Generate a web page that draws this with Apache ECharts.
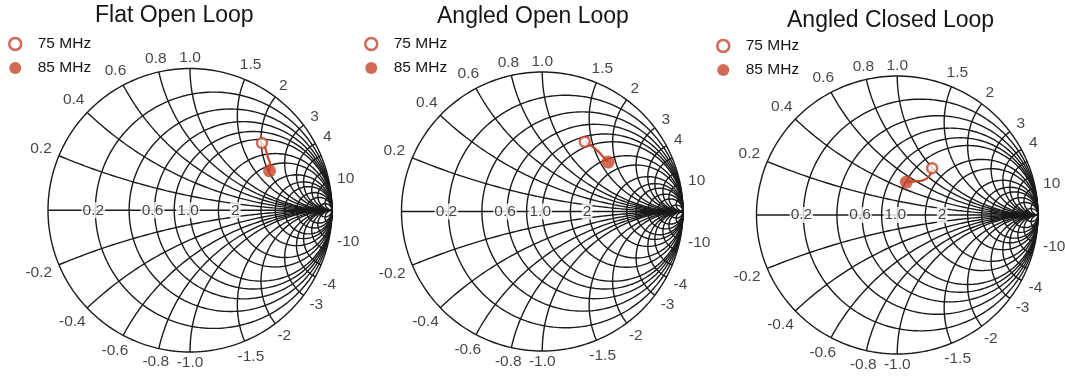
<!DOCTYPE html>
<html><head><meta charset="utf-8">
<script src="https://cdn.jsdelivr.net/npm/echarts@6/dist/echarts.min.js"></script>
<style>html,body{margin:0;padding:0;background:#fff}#c{width:1065px;height:381px}</style>
</head><body><div id="c"></div>
<script>
// ---- chart content ----
const chartTitles = ['Flat Open Loop', 'Angled Open Loop', 'Angled Closed Loop'];
const seriesNames = ['75 MHz', '85 MHz'];
// Smith chart grid: constant-resistance circles and constant-reactance arcs (normalised)
const resistanceCircles = [0.2, 0.4, 0.6, 0.8, 1, 1.5, 2, 3, 4, 5, 7, 10, 20];
const reactanceArcs = [0.2, 0.4, 0.6, 0.8, 1, 1.5, 2, 3, 4, 5, 7, 10, 20];
// tick labels
const resistanceLabels = ['0.2', '0.6', '1.0', '2'];
const reactanceLabels = ['0.2', '0.4', '0.6', '0.8', '1.0', '1.5', '2', '3', '4', '10',
  '-0.2', '-0.4', '-0.6', '-0.8', '-1.0', '-1.5', '-2', '-3', '-4', '-10'];
// measured sweeps 75 MHz -> 85 MHz, reflection coefficient (real, imaginary)
const flatOpenRe = [0.507, 0.528, 0.549, 0.563, 0.560];
const flatOpenIm = [0.474, 0.444, 0.373, 0.331, 0.278];
const angledOpenRe = [0.302, 0.374, 0.431, 0.468];
const angledOpenIm = [0.500, 0.453, 0.394, 0.354];
const angledClosedRe = [0.248, 0.231, 0.184, 0.125, 0.065];
const angledClosedIm = [0.337, 0.285, 0.249, 0.242, 0.237];

// ---- layout / style ----
const sweeps = [[flatOpenRe, flatOpenIm], [angledOpenRe, angledOpenIm], [angledClosedRe, angledClosedIm]];
const boxes = [
  {left: 48, top: 68.5, width: 284, height: 283.5},
  {left: 401.5, top: 72, width: 281.5, height: 279},
  {left: 756.5, top: 76, width: 281.5, height: 278}
];
const titlePos = [{left: 95, top: 4}, {left: 437, top: 5}, {left: 787, top: 9}];
const legendPos = [{left: 8, top: 36}, {left: 364, top: 36}, {left: 716, top: 38}];
const RED = '#c8452b';
const INK = '#1a1a1a';
const FONT = 'Liberation Sans, Arial, Helvetica, sans-serif';

function gamma(r, x) {
  const den = (r + 1) * (r + 1) + x * x;
  return [(r * r + x * x - 1) / den, 2 * x / den];
}
function rCircle(r) {
  const pts = [[1, 0]];
  const N = 240;
  for (let i = 1; i < N; i++) {
    const t = -Math.PI / 2 + Math.PI * i / N;
    pts.push(gamma(r, Math.tan(t)));
  }
  pts.push([1, 0]);
  return pts;
}
function xArc(x) {
  const pts = [];
  const N = 160;
  for (let i = 0; i < N; i++) {
    const t = (Math.PI / 2) * i / N;
    pts.push(gamma(Math.tan(t), x));
  }
  pts.push([1, 0]);
  return pts;
}
function textWidth(s) {
  let w = 0;
  for (const ch of s) w += ch === '.' ? 4.4 : ch === '-' ? 5.2 : 8.8;
  return w;
}

const option = {
  animation: false,
  backgroundColor: '#fff',
  title: [], legend: [], grid: [], xAxis: [], yAxis: [], series: []
};

chartTitles.forEach((name, k) => {
  option.title.push({
    text: name, left: titlePos[k].left, top: titlePos[k].top, padding: 0,
    textStyle: {fontFamily: FONT, fontSize: 23, fontWeight: 'normal', color: '#151515'}
  });
  option.legend.push({
    left: legendPos[k].left, top: legendPos[k].top, orient: 'vertical', padding: 0,
    itemWidth: 35, itemHeight: 12, itemGap: 8, selectedMode: false,
    textStyle: {fontFamily: FONT, fontSize: 15.5, color: '#151515'},
    data: [
      {name: seriesNames[0], icon: 'circle', itemStyle: {color: '#fff', borderColor: RED, borderWidth: 2.5}},
      {name: seriesNames[1], icon: 'circle', itemStyle: {color: RED, borderWidth: 0}}
    ]
  });
  option.grid.push(Object.assign({containLabel: false}, boxes[k]));
  option.xAxis.push({type: 'value', gridIndex: k, min: -1, max: 1, show: false});
  option.yAxis.push({type: 'value', gridIndex: k, min: -1, max: 1, show: false});

  const gridLine = (data) => ({
    type: 'line', xAxisIndex: k, yAxisIndex: k, data, showSymbol: false, silent: true,
    clip: false, z: 1, lineStyle: {color: INK, width: 1.4}, animation: false
  });
  option.series.push(gridLine(rCircle(0)));
  option.series.push(gridLine([[-1, 0], [1, 0]]));
  resistanceCircles.forEach(r => option.series.push(gridLine(rCircle(r))));
  reactanceArcs.forEach(x => {
    option.series.push(gridLine(xArc(x)));
    option.series.push(gridLine(xArc(-x)));
  });

  // resistance labels along the real axis
  option.series.push({
    type: 'scatter', xAxisIndex: k, yAxisIndex: k, silent: true, z: 5, symbolSize: 1,
    itemStyle: {color: 'rgba(0,0,0,0)'},
    data: resistanceLabels.map(s => {
      const r = parseFloat(s);
      return {value: [(r - 1) / (r + 1), 0], label: {formatter: s}};
    }),
    label: {show: true, position: 'inside', offset: [-2, 0], fontFamily: FONT, fontSize: 15.5, color: '#151515',
      backgroundColor: '#fff', padding: [0, 1]}
  });
  // reactance labels around the rim
  option.series.push({
    type: 'scatter', xAxisIndex: k, yAxisIndex: k, silent: true, z: 5, symbolSize: 1,
    itemStyle: {color: 'rgba(0,0,0,0)'},
    data: reactanceLabels.map(s => {
      const x = parseFloat(s);
      const g = gamma(0, x);
      const th = Math.atan2(g[1], g[0]);
      const c = Math.cos(th), sn = Math.sin(th);
      const d = 4 + Math.abs(c) * (textWidth(s) / 2 + 3) + Math.abs(sn) * 6.5;
      return {value: g, label: {formatter: s, offset: [c * d, -sn * d]}};
    }),
    label: {show: true, position: 'inside', fontFamily: FONT, fontSize: 15.5, color: '#151515'}
  });

  // measured sweep
  const [re, im] = sweeps[k];
  const pts = re.map((v, i) => [v, im[i]]);
  option.series.push({
    type: 'line', name: 'sweep', xAxisIndex: k, yAxisIndex: k, data: pts, smooth: 0.4,
    showSymbol: false, silent: true, z: 8, lineStyle: {color: RED, width: 2.2}
  });
  option.series.push({
    type: 'scatter', name: seriesNames[0], xAxisIndex: k, yAxisIndex: k, z: 10,
    data: [pts[0]], symbol: 'circle', symbolSize: 10,
    itemStyle: {color: '#fff', borderColor: RED, borderWidth: 2.5}
  });
  option.series.push({
    type: 'scatter', name: seriesNames[1], xAxisIndex: k, yAxisIndex: k, z: 10,
    data: [pts[pts.length - 1]], symbol: 'circle', symbolSize: 13,
    itemStyle: {color: RED}
  });
});

const chart = echarts.init(document.getElementById('c'), null, {renderer: 'canvas'});
chart.setOption(option);
</script></body></html>
